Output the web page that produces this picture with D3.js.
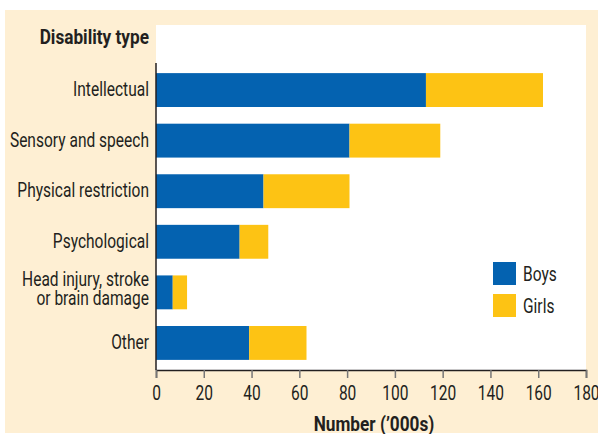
<!DOCTYPE html>
<html>
<head>
<meta charset="utf-8">
<script src="https://cdn.jsdelivr.net/npm/d3@7"></script>
<style>
  body { margin: 0; background: #fff; }
  text { font-family: Roboto, "Liberation Sans", sans-serif; fill: #231f20; }
</style>
</head>
<body>
<svg width="598" height="434"></svg>
<script>
const categories = ['Intellectual', 'Sensory and speech', 'Physical restriction', 'Psychological', 'Head injury, stroke|or brain damage', 'Other']
const boys = [113, 81, 45, 35, 7, 39]
const girls = [49, 38, 36, 12, 6, 24]
const xTicks = [0, 20, 40, 60, 80, 100, 120, 140, 160, 180]
const seriesNames = ['Boys', 'Girls']
const colors = ['#0462b0', '#fdc314']

const squeeze = 0.74 // smalle letters zoals in het origineel
const squeezeBold = 0.82
const fontSize = 21

const svg = d3.select('svg')
const width = +svg.attr('width')
const height = +svg.attr('height')

// beige achtergrond en wit plotvlak
svg.append('rect').attr('x', 5).attr('y', 10).attr('width', width - 5).attr('height', 423).attr('fill', '#feefd3')

const margin = {top: 63, left: 156, right: 12, bottom: 64}
const innerWidth = width - margin.left - margin.right
const innerHeight = height - margin.top - margin.bottom

svg.append('rect').attr('x', margin.left).attr('y', 25)
    .attr('width', innerWidth).attr('height', margin.top + innerHeight - 25).attr('fill', '#fff')

const g = svg.append('g').attr('transform', `translate(${margin.left}, ${margin.top})`)

const xscale = d3.scaleLinear().domain([0, 180]).range([0, innerWidth])
const yscale = d3.scaleBand().domain(categories).range([0, innerHeight]).paddingInner(0.33).paddingOuter(0.2)

// tekst met smalle letters
function label(parent, x, y, txt, anchor, bold) {
    return parent.append('text')
        .attr('transform', `translate(${x}, ${y}) scale(${bold ? squeezeBold : squeeze}, 1)`)
        .attr('text-anchor', anchor)
        .attr('font-size', fontSize)
        .attr('font-weight', bold ? 'bold' : 'normal')
        .text(txt)
}

// gestapelde data
const data = categories.map((c, i) => ({cat: c, Boys: boys[i], Girls: girls[i]}))
const stacked = d3.stack().keys(seriesNames)(data)

g.selectAll('g.series').data(stacked).enter().append('g')
    .attr('fill', (d, i) => colors[i])
    .selectAll('rect').data(d => d).enter().append('rect')
        .attr('x', d => xscale(d[0]))
        .attr('y', d => yscale(d.data.cat))
        .attr('width', d => xscale(d[1]) - xscale(d[0]))
        .attr('height', yscale.bandwidth())

// x-as
const xAxis = g.append('g').attr('transform', `translate(0, ${innerHeight})`)
    .call(d3.axisBottom(xscale).tickValues(xTicks).tickSize(8).tickFormat(''))
xAxis.select('.domain').attr('stroke', '#231f20').attr('stroke-width', 1.5)
xAxis.selectAll('.tick line').attr('stroke', '#777').attr('stroke-width', 1.5)
xAxis.selectAll('.tick').each(function (d) {
    label(d3.select(this), 0, 30, d, 'middle', false)
})

// y-as lijn
g.append('line').attr('x1', 0).attr('x2', 0).attr('y1', 0).attr('y2', innerHeight)
    .attr('stroke', '#231f20').attr('stroke-width', 1.5)

// categorie labels
categories.forEach(c => {
    const lines = c.split('|')
    const cy = margin.top + yscale(c) + yscale.bandwidth() / 2
    if (lines.length === 1) {
        label(svg, 149, cy + 6, lines[0], 'end', false)
    } else {
        label(svg, 149, cy - 6, lines[0], 'end', false)
        label(svg, 149, cy + 13, lines[1], 'end', false)
    }
})

label(svg, 149, 44, 'Disability type', 'end', true)
label(svg, 374, 431, 'Number (\u2019000s)', 'middle', true)

// legenda
const legend = svg.append('g').attr('transform', 'translate(493, 262)')
seriesNames.forEach((s, i) => {
    legend.append('rect').attr('x', 0).attr('y', i * 32).attr('width', 23).attr('height', 23).attr('fill', colors[i])
    label(legend, 30, i * 32 + 19, s, 'start', false)
})
</script>
</body>
</html>
